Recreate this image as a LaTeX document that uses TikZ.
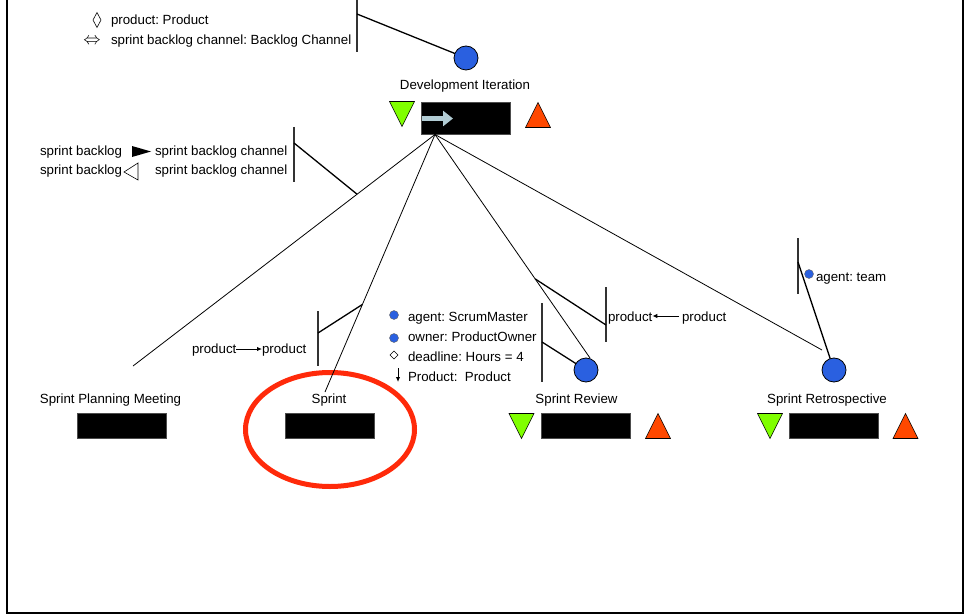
\documentclass[tikz,border=0pt]{standalone}
\usepackage{fontspec}
\setmainfont{Liberation Sans}
\usetikzlibrary{arrows.meta,calc,shapes.geometric}
\frenchspacing

\definecolor{roleblue}{RGB}{42,96,224}
\definecolor{entrygreen}{RGB}{128,255,0}
\definecolor{exitorange}{RGB}{255,72,0}
\definecolor{ringred}{RGB}{255,42,10}
\definecolor{flowgrey}{RGB}{178,204,212}

\begin{document}
\begin{tikzpicture}[x=1pt,y=-1pt,
  every node/.style={inner sep=0pt,outer sep=0pt},
  lbl/.style={font=\fontsize{13.3}{16}\selectfont,anchor=base},
  lblw/.style={lbl,anchor=base west},
  activity/.style={fill=black,draw=black!70,line width=0.5pt,minimum width=89pt,minimum height=25pt},
  role/.style={circle,fill=roleblue,draw=black,line width=0.8pt,minimum size=24pt},
  minirole/.style={circle,fill=roleblue,draw=black!60,line width=0.4pt,minimum size=9pt},
  tree/.style={line width=0.8pt},
  attr/.style={line width=1.3pt},
  bar/.style={line width=2pt,draw=black!80},
  smallarrow/.style={line width=1pt,-{Latex[length=5pt,width=4.5pt]}},
  entrytri/.pic={\path[fill=entrygreen,draw=black,line width=0.6pt]
    (-12.5,-12.5) -- (12.5,-12.5) -- (0,12.5) -- cycle;},
  exittri/.pic={\path[fill=exitorange,draw=black,line width=0.6pt]
    (-12.5,12.5) -- (12.5,12.5) -- (0,-12.5) -- cycle;}
]
\useasboundingbox (0,0) rectangle (966,615);

% frame, open at the top
\draw[line width=2pt] (7,0) -- (7,613) -- (963,613) -- (963,0);

% ---- Development Iteration ----
\node[role] (dvc) at (466,58) {};
\node[lbl] (dvl) at (465,90) {Development Iteration};
\node[activity,minimum height=32pt] (dvb) at (465.5,118.5) {};
\draw[flowgrey,line width=5pt,-{Triangle[length=10pt,width=15pt]}]
  ($(dvb.west)+(1,0)$) -- ($(dvb.west)+(32,0)$);
\pic (dvin) at (402,114) {entrytri};
\pic (dvout) at (538,115) {exittri};
\coordinate (root) at ($(dvb.south west)+(14,0)$);

% parameters of the iteration
\node[diamond,draw,line width=0.6pt,minimum width=8pt,minimum height=15pt] (pdmd) at (97,20) {};
\node[lblw] (pprod) at (111,25) {product: Product};
\node[font=\fontsize{17}{20}\selectfont] (pdbl) at (92,41) {$\Leftrightarrow$};
\node[lblw] (pchan) at (111,45) {sprint backlog channel: Backlog Channel};
\coordinate (b1t) at (357,0);
\coordinate (b1b) at (357,52);
\coordinate (b1a) at (357,14);
\draw[bar] (b1t) -- (b1b);
\draw[attr] (b1a) -- (dvc);

% ---- bottom row of activities ----
\node[lbl] (spml) at (110.5,403) {Sprint Planning Meeting};
\node[activity] (spmb) at (121.5,426) {};

\node[lbl] (sprl) at (329,403) {Sprint};
\node[activity] (sprb) at (330,426) {};
\node[ellipse,draw=ringred,line width=5pt,minimum width=169pt,minimum height=114pt] (ring) at (330,429.5) {};

\node[role] (rvc) at (586,370) {};
\node[lbl] (rvl) at (576.5,403) {Sprint Review};
\node[activity] (rvb) at (585.5,426) {};
\pic (rvin) at (521.5,426) {entrytri};
\pic (rvout) at (658,426) {exittri};

\node[role] (rtc) at (834,370) {};
\node[lbl] (rtl) at (827,403) {Sprint Retrospective};
\node[activity] (rtb) at (834,426) {};
\pic (rtin) at (770,426) {entrytri};
\pic (rtout) at (905.5,426) {exittri};

% ---- decomposition tree ----
\coordinate (planend) at (133,366);
\coordinate (sprintend) at (325,392);
\coordinate (reviewend) at (590,358);
\coordinate (retroend) at (822,350);
\draw[tree] (root) -- (planend);
\draw[tree] (root) -- (sprintend);
\draw[tree] (root) -- (reviewend);
\draw[tree] (root) -- (retroend);

% sprint backlog flow on the planning branch
\node[lblw] (sb1) at (40,156) {sprint backlog};
\fill (132,146) -- (151,151.5) -- (132,157) -- cycle;
\node[lblw] (sbc1) at (155,156) {sprint backlog channel};
\node[lblw] (sb2) at (40,175) {sprint backlog};
\draw[line width=0.6pt] (138,163) -- (124,172) -- (138,180) -- cycle;
\node[lblw] (sbc2) at (155,175) {sprint backlog channel};
\coordinate (b2t) at (294,127);
\coordinate (b2b) at (294,182);
\coordinate (b2a) at (294,143);
\draw[bar] (b2t) -- (b2b);
\draw[attr] (b2a) -- ($(root)!0.258!(planend)$);

% product flow on the sprint branch
\node[lblw] (sp1) at (192,353) {product};
\node[lblw] (sp2) at (262,353) {product};
\draw[smallarrow] (sp1.east |- 0,349) -- (sp2.west |- 0,349);
\coordinate (b3t) at (318,311);
\coordinate (b3b) at (318,366);
\coordinate (b3a) at (318,333);
\draw[bar] (b3t) -- (b3b);
\draw[attr] (b3a) -- ($(root)!0.66!(sprintend)$);

% product flow on the review branch
\node[lblw] (rp1) at (608,321) {product};
\node[lblw] (rp2) at (682,321) {product};
\draw[smallarrow] (rp2.west |- 0,316) ++(-3,0) -- (rp1.east |- 0,316);
\coordinate (b4t) at (606,287);
\coordinate (b4b) at (606,342);
\coordinate (b4a) at (606,325);
\draw[bar] (b4t) -- (b4b);
\draw[attr] (b4a) -- ($(root)!0.646!(reviewend)$);

% roles and deadline of the review
\node[minirole] (ra1) at (394,315) {};
\node[lblw] (rt1) at (408,321) {agent: ScrumMaster};
\node[minirole] (ra2) at (394,338) {};
\node[lblw] (rt2) at (408,341) {owner: ProductOwner};
\node[diamond,draw,line width=0.6pt,minimum width=8pt,minimum height=8pt] (ra3) at (394,355) {};
\node[lblw] (rt3) at (408,361) {deadline: Hours = 4};
\coordinate (ra4t) at (398,368);
\coordinate (ra4b) at (398,382);
\draw[smallarrow] (ra4t) -- (ra4b);
\node[lblw] (rt4) at (408,381) {Product:\ \ Product};
\coordinate (b5t) at (542,303);
\coordinate (b5b) at (542,382);
\coordinate (b5a) at (542,342);
\draw[bar] (b5t) -- (b5b);
\draw[attr] (b5a) -- (rvc);

% agent of the retrospective
\node[minirole] (ta1) at (809,274) {};
\node[lblw] (tt1) at (816,281) {agent: team};
\coordinate (b6t) at (798,238);
\coordinate (b6b) at (798,294);
\coordinate (b6a) at (798,262);
\draw[bar] (b6t) -- (b6b);
\draw[attr] (b6a) -- (rtc);

\end{tikzpicture}
\end{document}
